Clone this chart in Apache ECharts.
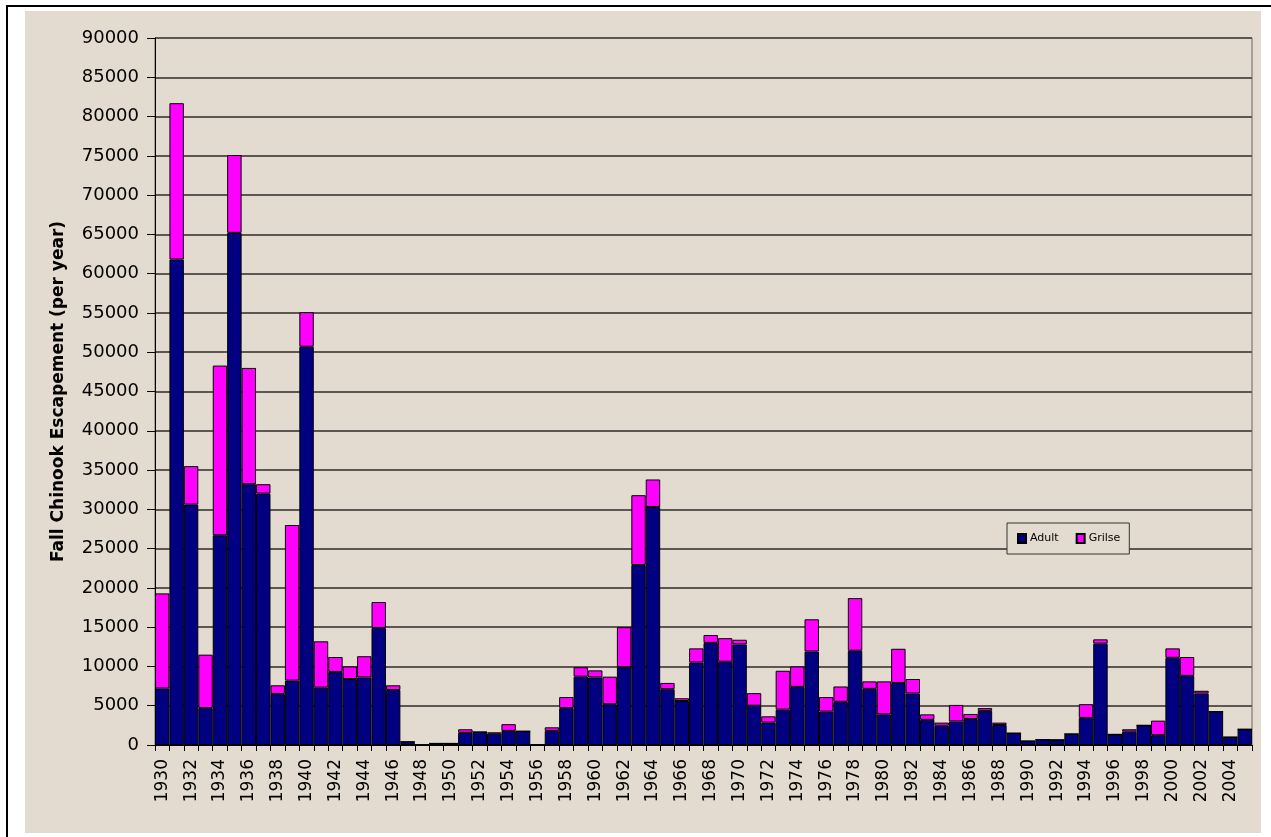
<!DOCTYPE html>
<html>
<head>
<meta charset="utf-8">
<script src="https://cdn.jsdelivr.net/npm/echarts@6/dist/echarts.min.js"></script>
<style>
html,body{margin:0;padding:0;background:#fff;}
#chart{width:1271px;height:837px;}
</style>
</head>
<body>
<div id="chart"></div>
<script>
const years = [];
for (let y = 1930; y <= 2005; y++) years.push(String(y));

const adult = [
  7200, 61800, 30600, 4700, 26700, 65200, 33200, 32000, 6500, 8200,
  50700, 7300, 9300, 8400, 8600, 14900, 7000, 400, 0, 200,
  200, 1550, 1650, 1450, 1800, 1750, 0, 1800, 4700, 8700,
  8600, 5200, 9900, 22900, 30300, 7100, 5600, 10500, 13000, 10600,
  12800, 5000, 2850, 4500, 7400, 11900, 4250, 5500, 12000, 7150,
  3900, 7900, 6550, 3200, 2450, 3000, 3300, 4350, 2550, 1500,
  500, 700, 650, 1400, 3450, 12900, 1350, 1700, 2500, 1250,
  11100, 8800, 6550, 4250, 1000, 2000
];
const grilse = [
  12100, 19900, 4900, 6800, 21600, 9900, 14800, 1200, 1100, 19800,
  4400, 5900, 1900, 1600, 2700, 3300, 600, 0, 0, 0,
  0, 450, 0, 150, 850, 0, 0, 450, 1400, 1200,
  900, 3500, 5100, 8900, 3500, 800, 350, 1800, 1000, 3000,
  600, 1600, 800, 4950, 2600, 4100, 1850, 1950, 6700, 950,
  4200, 4350, 1850, 700, 400, 2100, 650, 350, 300, 0,
  0, 0, 0, 0, 1750, 550, 0, 300, 0, 1850,
  1200, 2400, 350, 0, 0, 0
];

const BEIGE = '#e3dbcf';
const FONT = 'DejaVu Sans';

const chart = echarts.init(document.getElementById('chart'), null, {renderer: 'canvas'});
chart.setOption({
  animation: false,
  backgroundColor: '#ffffff',
  graphic: [
    {type: 'rect', z: -10, silent: true, shape: {x: 25, y: 11, width: 1236, height: 822}, style: {fill: BEIGE}},
    {type: 'line', z: 10, silent: true, shape: {x1: 7, y1: 5, x2: 7, y2: 837}, style: {stroke: '#000', lineWidth: 2}},
    {type: 'line', z: 10, silent: true, shape: {x1: 6, y1: 6, x2: 1271, y2: 6}, style: {stroke: '#000', lineWidth: 2}}
  ],
  legend: {
    data: ['Adult', 'Grilse'],
    left: 1007, top: 523,
    orient: 'horizontal',
    icon: 'rect',
    itemWidth: 8, itemHeight: 9, itemGap: 17,
    padding: [10, 9, 10, 10],
    borderColor: '#333', borderWidth: 1,
    backgroundColor: BEIGE,
    textStyle: {fontFamily: FONT, fontSize: 11, color: '#000', padding: [0, 0, 0, -1]}
  },
  grid: {left: 155, right: 19, top: 38, bottom: 92, show: true, borderColor: '#6a6560', borderWidth: 1, backgroundColor: 'transparent'},
  xAxis: {
    type: 'category',
    data: years,
    boundaryGap: true,
    axisLine: {show: true, lineStyle: {color: '#000', width: 1}},
    axisTick: {show: true, interval: 0, length: 6, lineStyle: {color: '#000'}},
    axisLabel: {interval: 1, rotate: 90, margin: 14, fontFamily: FONT, fontSize: 17, color: '#000'},
    splitLine: {show: false}
  },
  yAxis: {
    type: 'value',
    min: 0, max: 90000, interval: 5000,
    name: 'Fall Chinook Escapement (per year)',
    nameLocation: 'middle',
    nameGap: 88,
    nameTextStyle: {fontFamily: FONT, fontSize: 17, fontWeight: 'bold', color: '#000'},
    axisLine: {show: true, lineStyle: {color: '#000', width: 1}},
    axisTick: {show: true, length: 8, lineStyle: {color: '#000'}},
    axisLabel: {margin: 16, fontFamily: FONT, fontSize: 18, color: '#000', formatter: function (v) { return String(v); }},
    splitLine: {show: true, lineStyle: {color: '#5c5752', width: 2}}
  },
  series: [
    {name: 'Adult', type: 'bar', stack: 'total', data: adult, barCategoryGap: '0%',
     itemStyle: {color: '#000080', borderColor: '#000', borderWidth: 1}},
    {name: 'Grilse', type: 'bar', stack: 'total', data: grilse, barCategoryGap: '0%',
     itemStyle: {color: '#ff00ff', borderColor: '#000', borderWidth: 1}}
  ]
});
</script>
</body>
</html>
